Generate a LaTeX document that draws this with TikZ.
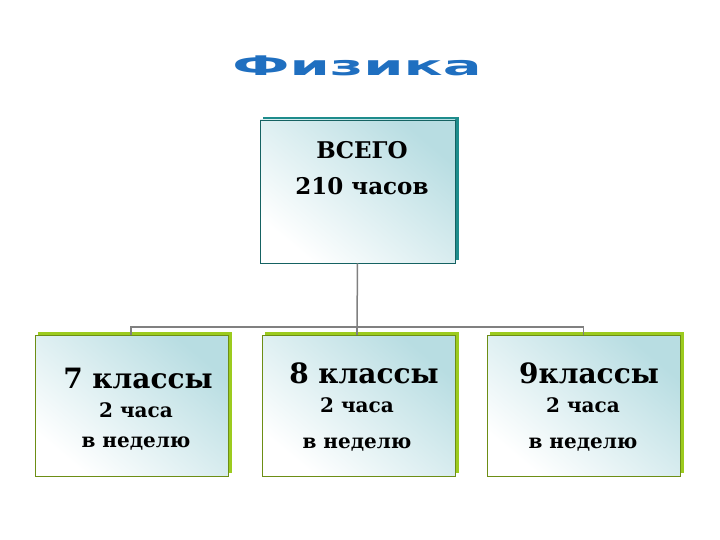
\documentclass[tikz,border=0pt]{standalone}
\usepackage{fontspec}
\setmainfont{DejaVu Serif}
\newfontfamily\titlefont{DejaVu Sans}
\definecolor{boxtop}{HTML}{B8DDE2}
\definecolor{tealsh}{HTML}{1E8C8C}
\definecolor{greensh}{HTML}{9CCB1E}
\definecolor{titleblue}{HTML}{1F6FC0}
\begin{document}
\begin{tikzpicture}[x=1pt,y=-1pt,
  box/.style={minimum width=193pt,minimum height=141pt,draw=#1!70!black,line width=0.6pt,
    top color=boxtop,bottom color=white,shading angle=-40,inner sep=0pt,align=center},
  conn/.style={draw=gray,line width=1.5pt}]
\useasboundingbox (0,0) rectangle (720,540);
\node[font=\titlefont\bfseries\fontsize{36}{36}\selectfont,text=titleblue,xscale=1.6,yscale=0.75] (title) at (357,66) {Физика};
% shadows
\fill[tealsh] (263,117) rectangle (459,260);
\fill[greensh] (38,332) rectangle (232,473);
\fill[greensh] (265,332) rectangle (459,473);
\fill[greensh] (490,332) rectangle (684,473);
\node[box=tealsh,minimum width=195pt,minimum height=143pt] (top) at (357.5,191.5) {};
\node[box=greensh] (b7) at (131.5,405.5) {};
\node[box=greensh] (b8) at (358.5,405.5) {};
\node[box=greensh] (b9) at (583.5,405.5) {};
\node[font=\bfseries\fontsize{23}{36}\selectfont,align=center] (t0) at (362,168) {ВСЕГО\\ 210 часов};
\node[font=\bfseries\fontsize{28}{28}\selectfont] (t7) at (138,378) {7 классы};
\node[font=\bfseries\fontsize{20}{30}\selectfont,align=center] (s7) at (136,426) {2 часа\\в неделю};
\node[font=\bfseries\fontsize{28}{28}\selectfont] (t8) at (364,373) {8 классы};
\node[font=\bfseries\fontsize{20}{36}\selectfont,align=center] (s8) at (357,424) {2 часа\\в неделю};
\node[font=\bfseries\fontsize{28}{28}\selectfont] (t9) at (589,373) {9классы};
\node[font=\bfseries\fontsize{20}{36}\selectfont,align=center] (s9) at (583,424) {2 часа\\в неделю};
\coordinate (j) at (357,327);
\draw[conn] (top.south) -- (j);
\draw[conn] (b7.north -| 131,0) |- (j) -| (b9.north);
\draw[conn] (j) -- (b8.north -| j);
\end{tikzpicture}
\end{document}
